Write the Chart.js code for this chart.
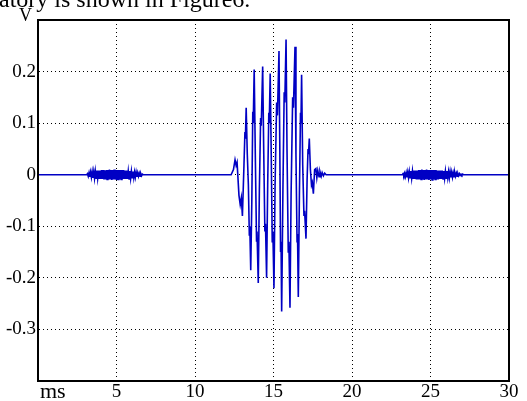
<!DOCTYPE html>
<html>
<head>
<meta charset="utf-8">
<script src="https://cdn.jsdelivr.net/npm/chart.js@4"></script>
<style>
  html, body { margin: 0; padding: 0; background: #fff; overflow: hidden; }
  #wrap { position: relative; width: 527px; height: 401px; }
  canvas { position: absolute; left: 0; top: 0; }
  .txt { position: absolute; font-family: "Liberation Serif", "Times New Roman", serif; color: #000; white-space: nowrap; }
</style>
</head>
<body>
<div id="wrap">
  <canvas id="c" width="527" height="401"></canvas>
  <div class="txt" style="left:-1px; top:-13px; font-size:24px; line-height:24px;">atory is shown in Figure6.</div>
  <div class="txt" style="left:19px; top:6px; font-size:18px; line-height:18px;">V</div>
  <div class="txt" style="left:40px; top:380px; font-size:22px; line-height:22px;">ms</div>
</div>
<script>
// ---- data (time in ms, voltage in V) ----
const startTimes = [0];
const startVolts = [0];

const burst1Times = [3.10,3.15,3.20,3.25,3.30,3.35,3.40,3.45,3.50,3.55,3.60,3.65,3.70,3.75,3.80,3.85,3.90,3.95,4.00,4.05,4.10,4.15,4.20,4.25,4.30,4.35,4.40,4.45,4.50,4.55,4.60,4.65,4.70,4.75,4.80,4.85,4.90,4.95,5.00,5.05,5.10,5.15,5.20,5.25,5.30,5.35,5.40,5.45,5.50,5.55,5.60,5.65,5.70,5.75,5.80,5.85,5.90,5.95,6.00,6.05,6.10,6.15,6.20,6.25,6.30,6.35,6.40,6.45,6.50,6.55,6.60,6.65,6.70];
const burst1Volts = [0,0.002,-0.003,0.004,-0.004,0.005,-0.005,0.006,-0.006,0.006,-0.007,0.007,-0.007,0.008,-0.007,0.008,-0.008,0.008,-0.008,0.009,-0.008,0.009,-0.009,0.008,-0.009,0.009,-0.009,0.009,-0.009,0.010,-0.009,0.009,-0.010,0.009,-0.009,0.010,-0.009,0.009,-0.010,0.009,-0.009,0.009,-0.009,0.009,-0.009,0.009,-0.008,0.009,-0.008,0.008,-0.008,0.008,-0.008,0.007,-0.008,0.007,-0.007,0.007,-0.006,0.006,-0.006,0.005,-0.005,0.005,-0.004,0.004,-0.003,0.003,-0.003,0.002,-0.002,0.001,0];

const mainTimes = [12.30,12.45,12.55,12.62,12.68,12.80,12.88,12.95,13.02,13.12,13.18,13.21,13.26,13.33,13.40,13.46,13.49,13.55,13.62,13.68,13.71,13.77,13.85,13.92,13.95,14.03,14.10,14.18,14.22,14.31,14.38,14.45,14.49,14.56,14.63,14.70,14.73,14.79,14.86,14.92,14.96,15.03,15.10,15.20,15.25,15.35,15.40,15.45,15.48,15.52,15.60,15.68,15.72,15.80,15.86,15.94,15.98,16.05,16.12,16.22,16.27,16.37,16.43,16.50,16.53,16.58,16.65,16.72,16.75,16.79,16.86,16.94,16.98,17.07,17.14,17.20,17.23,17.28,17.35,17.42,17.47,17.54,17.62,17.70,17.76,17.82,17.90,17.96,18.04,18.10,18.18,18.26,18.35];
const mainVolts = [0.000,0.010,0.029,0.018,0.024,-0.040,-0.058,-0.045,-0.080,0.020,0.083,0.070,0.130,0.040,-0.020,-0.117,-0.100,-0.185,-0.050,0.122,0.100,0.204,0.020,-0.130,-0.110,-0.210,-0.030,0.110,0.095,0.210,0.040,-0.110,-0.095,-0.200,-0.020,0.120,0.100,0.196,0.030,-0.130,-0.110,-0.220,-0.020,0.140,0.115,0.240,0.060,-0.150,-0.130,-0.265,-0.030,0.160,0.140,0.262,0.050,-0.150,-0.130,-0.258,-0.040,0.150,0.130,0.248,0.040,-0.130,-0.115,-0.237,-0.040,0.120,0.100,0.194,0.020,-0.080,-0.070,-0.124,-0.010,0.050,0.040,0.070,0.010,-0.020,-0.015,-0.037,0.010,0.012,-0.006,0.008,-0.004,0.006,-0.003,0.004,-0.002,0.003,0.000];

const burst2Times = [23.20,23.25,23.30,23.35,23.40,23.45,23.50,23.55,23.60,23.65,23.70,23.75,23.80,23.85,23.90,23.95,24.00,24.05,24.10,24.15,24.20,24.25,24.30,24.35,24.40,24.45,24.50,24.55,24.60,24.65,24.70,24.75,24.80,24.85,24.90,24.95,25.00,25.05,25.10,25.15,25.20,25.25,25.30,25.35,25.40,25.45,25.50,25.55,25.60,25.65,25.70,25.75,25.80,25.85,25.90,25.95,26.00,26.05,26.10,26.15,26.20,26.25,26.30,26.35,26.40,26.45,26.50,26.55,26.60,26.65,26.70,26.75,26.80,26.85,26.90,26.95,27.00,27.05,27.10];
const burst2Volts = [0,0.002,-0.002,0.003,-0.004,0.004,-0.005,0.005,-0.006,0.006,-0.006,0.007,-0.007,0.007,-0.008,0.008,-0.008,0.008,-0.009,0.008,-0.009,0.009,-0.009,0.009,-0.009,0.010,-0.009,0.009,-0.010,0.009,-0.009,0.010,-0.009,0.009,-0.010,0.009,-0.009,0.009,-0.010,0.009,-0.009,0.009,-0.009,0.009,-0.009,0.008,-0.009,0.008,-0.008,0.008,-0.008,0.008,-0.008,0.007,-0.007,0.007,-0.007,0.007,-0.006,0.006,-0.006,0.006,-0.005,0.005,-0.005,0.004,-0.004,0.004,-0.003,0.003,-0.003,0.002,-0.002,0.002,-0.001,0.001,-0.001,0.001,0];

const endTimes = [30];
const endVolts = [0];

const xTickLabels = ['', '5', '10', '15', '20', '25', '30'];          // at 0,5,...,30
const yTickLabels = ['', '-0.3', '-0.2', '-0.1', '0', '0.1', '0.2', '']; // at -0.4 ... 0.3

// ---- build points ----
const allTimes = [].concat(startTimes, burst1Times, mainTimes, burst2Times, endTimes);
const allVolts = [].concat(startVolts, burst1Volts, mainVolts, burst2Volts, endVolts);
const points = allTimes.map((t, i) => ({ x: t, y: allVolts[i] }));

const framePlugin = {
  id: 'frame',
  afterDraw(chart) {
    const { ctx, chartArea: a } = chart;
    ctx.save();
    ctx.strokeStyle = '#000';
    ctx.lineWidth = 2;
    ctx.strokeRect(a.left, a.top, a.right - a.left, a.bottom - a.top);
    ctx.restore();
  }
};

const font = { family: '"Liberation Serif", "Times New Roman", serif', size: 19 };

new Chart(document.getElementById('c'), {
  type: 'line',
  data: {
    datasets: [{
      data: points,
      borderColor: '#0000c4',
      borderWidth: 1.6,
      pointRadius: 0,
      tension: 0,
      fill: false
    }]
  },
  options: {
    responsive: false,
    animation: false,
    devicePixelRatio: 1,
    layout: { padding: { left: 0, right: 18, top: 20, bottom: 0 } },
    plugins: { legend: { display: false }, tooltip: { enabled: false } },
    scales: {
      x: {
        type: 'linear',
        min: 0, max: 30,
        afterFit(s) { s.height = 20; },
        ticks: {
          stepSize: 5,
          color: '#000',
          font: font,
          padding: 0,
          maxRotation: 0,
          callback: (v) => { const i = Math.round(v / 5); return xTickLabels[i] !== undefined ? xTickLabels[i] : ''; }
        },
        grid: { color: '#000', lineWidth: 1, drawTicks: false },
        border: { display: true, color: '#000', width: 2, dash: [1, 3] }
      },
      y: {
        type: 'linear',
        min: -0.4, max: 0.3,
        afterFit(s) { s.width = 38; },
        ticks: {
          stepSize: 0.1,
          color: '#000',
          font: font,
          padding: 2,
          callback: (v) => { const i = Math.round((v + 0.4) * 10); return yTickLabels[i] !== undefined ? yTickLabels[i] : ''; }
        },
        grid: { color: '#000', lineWidth: 1, drawTicks: false },
        border: { display: true, color: '#000', width: 2, dash: [1, 3] }
      }
    }
  },
  plugins: [framePlugin]
});
</script>
</body>
</html>
